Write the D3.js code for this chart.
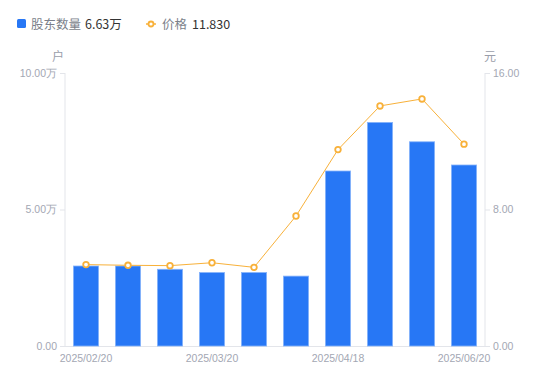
<!DOCTYPE html>
<html>
<head>
<meta charset="utf-8">
<script src="https://cdn.jsdelivr.net/npm/d3@7"></script>
<style>
  body { margin: 0; background: #fff; font-family: "Noto Sans CJK SC", "Liberation Sans", sans-serif; }
</style>
</head>
<body>
<svg id="chart" width="550" height="381"></svg>
<script>
// shareholders (万户) and price (元) per report date
var dates = ["2025/02/20", "2025/02/28", "2025/03/10", "2025/03/20", "2025/03/31",
             "2025/04/10", "2025/04/18", "2025/04/30", "2025/05/20", "2025/06/20"];
var holders = [2.93, 2.93, 2.81, 2.69, 2.69, 2.56, 6.41, 8.19, 7.48, 6.63];
var prices = [4.77, 4.73, 4.71, 4.88, 4.61, 7.62, 11.51, 14.07, 14.48, 11.83];
var leftTicks = [0, 5, 10];
var rightTicks = [0, 8, 16];

var svg = d3.select("#chart");
var pLeft = 65, pRight = 485, pTop = 73, pBottom = 346;
var axisColor = "#e3e5ea", labelColor = "#a3a7b3";
var barColor = "#2777f5", lineColor = "#f8b13a";

var x = d3.scaleBand().domain(dates).range([pLeft, pRight]).paddingInner(0.4).paddingOuter(0.2);
var yL = d3.scaleLinear().domain([0, 10]).range([pBottom, pTop]);
var yR = d3.scaleLinear().domain([0, 16]).range([pBottom, pTop]);

// axes
var gL = svg.append("g").attr("transform", "translate(" + pLeft + ",0)")
  .call(d3.axisLeft(yL).tickValues(leftTicks).tickSize(5).tickPadding(3)
    .tickFormat(d => d === 0 ? "0.00" : d.toFixed(2) + "万"));
var gR = svg.append("g").attr("transform", "translate(" + pRight + ",0)")
  .call(d3.axisRight(yR).tickValues(rightTicks).tickSize(5).tickPadding(3)
    .tickFormat(d => d.toFixed(2)));
[gL, gR].forEach(function(g) {
  g.select(".domain").attr("stroke", axisColor).attr("d",
    "M0," + pTop + "V" + pBottom);
  g.selectAll(".tick line").attr("stroke", axisColor);
  g.selectAll(".tick text").attr("fill", labelColor).style("font-size", "10.5px")
    .style("font-family", "Liberation Sans, sans-serif");
});

var gX = svg.append("g").attr("transform", "translate(0," + pBottom + ")")
  .call(d3.axisBottom(x).tickValues(dates.filter((d, i) => i % 3 === 0)).tickSize(0).tickPadding(9));
gX.select(".domain").attr("stroke", axisColor).attr("d", "M" + pLeft + ",0.5H" + pRight);
gX.selectAll(".tick text").attr("fill", labelColor).style("font-size", "10.5px")
  .style("font-family", "Liberation Sans, sans-serif");

// unit labels
svg.append("text").attr("x", pLeft - 7).attr("y", pTop - 12).attr("text-anchor", "middle")
  .attr("fill", "#9a9eaa").style("font-size", "12px").text("户");
svg.append("text").attr("x", pRight + 5).attr("y", pTop - 12).attr("text-anchor", "middle")
  .attr("fill", "#9a9eaa").style("font-size", "12px").text("元");

// bars
svg.append("g").selectAll("rect").data(holders).enter().append("rect")
  .attr("x", (d, i) => x(dates[i]))
  .attr("width", x.bandwidth())
  .attr("y", d => yL(d))
  .attr("height", d => pBottom - yL(d))
  .attr("fill", barColor)
  .attr("stroke", "#86b3fb").attr("stroke-width", 0.8);

// price line
var line = d3.line().x((d, i) => x(dates[i]) + x.bandwidth() / 2).y(d => yR(d));
svg.append("path").attr("d", line(prices)).attr("fill", "none")
  .attr("stroke", lineColor).attr("stroke-width", 1);
svg.append("g").selectAll("circle").data(prices).enter().append("circle")
  .attr("cx", (d, i) => x(dates[i]) + x.bandwidth() / 2)
  .attr("cy", d => yR(d))
  .attr("r", 2.8)
  .attr("fill", "#fff").attr("stroke", lineColor).attr("stroke-width", 1.8);

// legend
var lg = svg.append("g").style("font-size", "12.5px");
lg.append("rect").attr("x", 17).attr("y", 19).attr("width", 9).attr("height", 9)
  .attr("rx", 1.5).attr("fill", barColor);
lg.append("text").attr("x", 31).attr("y", 28.5).attr("fill", "#7b7f8a").text("股东数量");
lg.append("text").attr("x", 85).attr("y", 28.5).attr("fill", "#333").text(holders[holders.length - 1].toFixed(2) + "万");
lg.append("line").attr("x1", 146).attr("x2", 156).attr("y1", 24).attr("y2", 24)
  .attr("stroke", lineColor).attr("stroke-width", 1.5);
lg.append("circle").attr("cx", 151).attr("cy", 24).attr("r", 2.5)
  .attr("fill", "#fff").attr("stroke", lineColor).attr("stroke-width", 1.8);
lg.append("text").attr("x", 162).attr("y", 28.5).attr("fill", "#7b7f8a").text("价格");
lg.append("text").attr("x", 192).attr("y", 28.5).attr("fill", "#333").text(prices[prices.length - 1].toFixed(3));
</script>
</body>
</html>
